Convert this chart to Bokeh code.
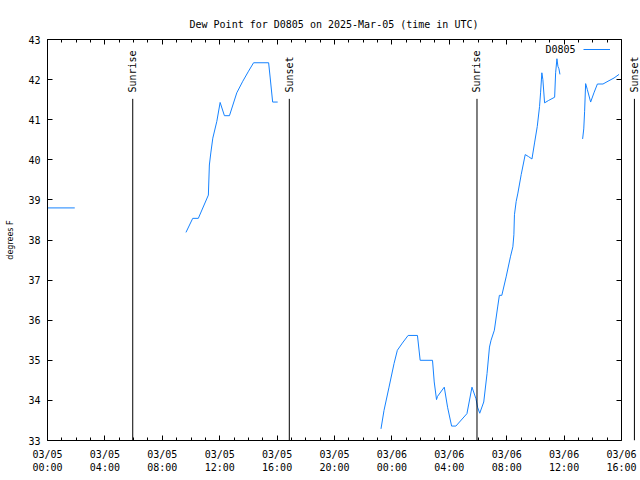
import numpy as np
import pandas as pd
from bokeh.plotting import figure
from bokeh.models import (Range1d, FixedTicker, DatetimeTickFormatter, LinearAxis,
                          Label, Legend, LegendItem, ColumnDataSource,
                          SingleIntervalTicker, CustomJSTickFormatter)
from bokeh.embed import file_html
from bokeh.resources import INLINE

# ---------------- data ----------------
START = "2025-03-05 00:00"          # time origin (UTC)
X_END_HOURS = 40                     # 03/06 16:00

# dew point segments: hours since START, degrees F
seg1_hours = [0.00, 1.90]
seg1_dewf = [38.8, 38.8]

seg2_hours = [9.65, 10.12, 10.51, 11.21, 11.28, 11.38, 11.52, 11.80, 12.03, 12.33,
              12.68, 13.19, 13.61, 14.01, 14.36, 15.41, 15.52, 15.69, 16.04]
seg2_dewf = [38.19, 38.54, 38.54, 39.12, 39.87, 40.17, 40.54, 40.96, 41.43, 41.10,
             41.10, 41.67, 41.96, 42.21, 42.42, 42.42, 42.04, 41.44, 41.44]

seg3_hours = [23.24, 23.45, 23.80, 24.15, 24.38, 24.73, 25.13, 25.78, 25.97, 26.83,
              26.95, 27.11, 27.18, 27.65, 27.88, 28.16, 28.46, 29.23, 29.58, 29.86,
              29.97, 30.12, 30.40, 30.63, 30.80, 30.91, 31.14, 31.37, 31.49, 31.66,
              31.96, 32.26, 32.43, 32.50, 32.54, 32.66, 32.78, 33.01, 33.29, 33.52,
              33.76, 33.94, 34.13, 34.29, 34.36, 34.45, 34.52, 34.64, 34.92, 35.34,
              35.41, 35.50, 35.57, 35.64, 35.71]
seg3_dewf = [33.29, 33.75, 34.33, 34.92, 35.25, 35.43, 35.62, 35.62, 35.00, 35.00,
             34.46, 34.02, 34.10, 34.33, 33.83, 33.36, 33.36, 33.67, 34.33, 34.04,
             33.83, 33.68, 33.96, 34.67, 35.33, 35.50, 35.75, 36.33, 36.62, 36.62,
             37.08, 37.58, 37.83, 38.13, 38.63, 38.96, 39.17, 39.63, 40.13, 40.08,
             40.02, 40.42, 40.83, 41.33, 41.67, 42.17, 42.00, 41.42, 41.48, 41.56,
             42.17, 42.52, 42.33, 42.27, 42.13]

seg4_hours = [37.29, 37.37, 37.43, 37.50, 37.62, 37.85, 38.08, 38.32, 38.71, 39.06,
              39.48, 39.83]
seg4_dewf = [40.52, 40.77, 41.21, 41.90, 41.75, 41.44, 41.67, 41.89, 41.89, 41.96,
             42.04, 42.13]

# sun events: hours since START
sun_hours = [5.94, 16.85, 29.93, 40.90]
sun_names = ["Sunrise", "Sunset", "Sunrise", "Sunset"]

Y_MIN, Y_MAX = 33, 43
SUN_LINE_TOP = 41.52                 # top of the sun-event marker lines

TITLE = "Dew Point for D0805 on 2025-Mar-05 (time in UTC)"
Y_LABEL = "degrees F"
SERIES = "D0805"

# ---------------- layout constants ----------------
W, H = 640, 480
BORDER_L, BORDER_T, BORDER_B = 47, 39, 40
AXES_W = 574                          # px width of the boxed axes area (gnuplot box)
FRAME_W = W - BORDER_L                # frame reaches the right edge so that the
                                      # last sun marker (outside the box) can be drawn

# ---------------- build ----------------
t0 = pd.Timestamp(START, tz="UTC")
HOUR_MS = 3600 * 1000.0
t0_ms = t0.value / 1e6


def to_ms(hours):
    return [t0_ms + h * HOUR_MS for h in hours]


t_end = to_ms([X_END_HOURS])[0]
view_end = t0_ms + X_END_HOURS * HOUR_MS * FRAME_W / AXES_W

xs, ys = [], []
for hs, vs in [(seg1_hours, seg1_dewf), (seg2_hours, seg2_dewf),
               (seg3_hours, seg3_dewf), (seg4_hours, seg4_dewf)]:
    if xs:
        xs.append(np.nan)
        ys.append(np.nan)
    xs += to_ms(hs)
    ys += vs
src = ColumnDataSource(dict(x=xs, y=ys))
sun_src = ColumnDataSource(dict(x=to_ms(sun_hours), y0=[Y_MIN] * len(sun_hours),
                                y1=[SUN_LINE_TOP] * len(sun_hours)))

MONO = "DejaVu Sans Mono"
FS = "10px"
BLUE = "#1582ff"

p = figure(width=W, height=H, output_backend="svg", toolbar_location=None,
           x_range=Range1d(t0_ms, view_end),
           y_range=Range1d(Y_MIN, Y_MAX),
           x_axis_type="datetime",
           min_border_left=BORDER_L, min_border_right=0, min_border_top=BORDER_T,
           min_border_bottom=BORDER_B)
p.xgrid.visible = False
p.ygrid.visible = False
p.outline_line_color = None
p.background_fill_color = "white"
p.border_fill_color = "white"

p.title.text = TITLE
p.title.text_font = MONO
p.title.text_font_size = FS
p.title.text_font_style = "normal"
p.title.text_color = "black"
p.title.align = "left"
p.title.offset = 142                  # start of the centred title over the boxed area
p.title.standoff = 20

major_ticks = to_ms(list(range(0, X_END_HOURS + 1, 4)))
minor_ticks = to_ms(list(range(0, X_END_HOURS + 1, 1)))
xticker = FixedTicker(ticks=major_ticks, minor_ticks=minor_ticks)
fmt = "%m/%d\n%H:%M"
xfmt = DatetimeTickFormatter(milliseconds=fmt, seconds=fmt, minsec=fmt, minutes=fmt,
                             hourmin=fmt, hours=fmt, days=fmt, months=fmt, years=fmt)
blank = CustomJSTickFormatter(code="return ''")

xa = p.xaxis[0]
xa.ticker = xticker
xa.formatter = xfmt
xa.bounds = (t0_ms, t_end)
ya = p.yaxis[0]
ya.ticker = SingleIntervalTicker(interval=1, num_minor_ticks=0)
ya.axis_label = Y_LABEL
ya.axis_label_text_font = "DejaVu Sans"
ya.axis_label_text_font_size = "8px"
ya.axis_label_text_font_style = "normal"
ya.axis_label_text_color = "black"
ya.axis_label_standoff = 10

for ax in (xa, ya):
    ax.major_label_text_font = MONO
    ax.major_label_text_font_size = FS
    ax.major_tick_in = 5
    ax.major_tick_out = 0
    ax.minor_tick_in = 3
    ax.minor_tick_out = 0
    ax.axis_line_color = "black"
    ax.major_tick_line_color = "black"
    ax.minor_tick_line_color = "black"
    ax.major_label_text_color = "black"
xa.major_label_standoff = 8
ya.major_label_standoff = 7

# mirrored axes (ticks only), closing the box at the last x tick
top = LinearAxis(ticker=xticker, formatter=blank, bounds=(t0_ms, t_end),
                 major_tick_in=5, major_tick_out=0, minor_tick_in=3, minor_tick_out=0)
right = LinearAxis(ticker=SingleIntervalTicker(interval=1, num_minor_ticks=0),
                   formatter=blank, fixed_location=t_end,
                   major_tick_in=5, major_tick_out=0, minor_tick_in=0, minor_tick_out=0)
p.add_layout(top, "above")
p.add_layout(right, "right")

line = p.line("x", "y", source=src, line_color=BLUE, line_width=1)

# sun event markers
p.segment(x0="x", y0="y0", x1="x", y1="y1", source=sun_src, line_color="black",
          line_width=1)
for h, name in zip(sun_hours, sun_names):
    tm = to_ms([h])[0]
    p.add_layout(Label(x=tm, y=348, x_units="data", y_units="screen", text=name,
                       angle=np.pi / 2, text_align="left", text_baseline="middle",
                       text_font=MONO, text_font_size=FS, text_color="black"))

# legend: text on the left, sample line on the right (gnuplot style)
legend = Legend(items=[LegendItem(label=" ", renderers=[line])], location=(536, 390),
                margin=0, padding=0, glyph_width=27, glyph_height=2,
                label_width=0, label_height=2, label_standoff=0,
                label_text_font_size="1px", border_line_color=None,
                background_fill_alpha=0)
p.add_layout(legend)
p.add_layout(Label(x=528, y=391, x_units="screen", y_units="screen", text=SERIES,
                   text_align="right", text_baseline="middle",
                   text_font=MONO, text_font_size=FS, text_color="black"))

open("out.html", "w").write(file_html(p, INLINE))
